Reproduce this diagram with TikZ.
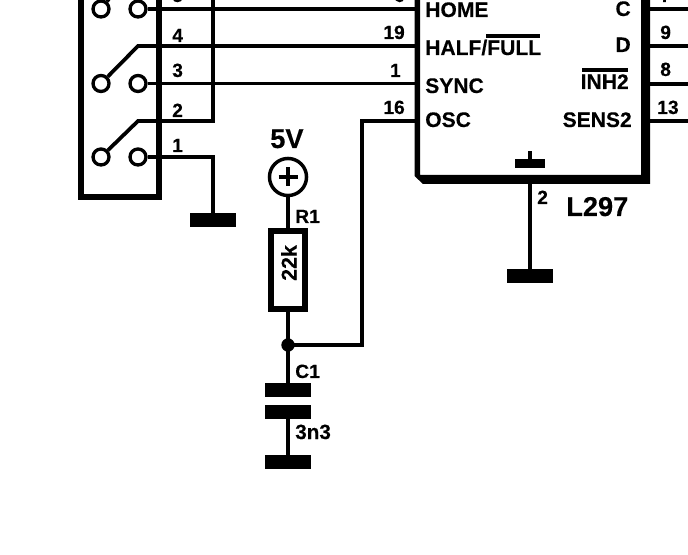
\documentclass[tikz,border=0pt]{standalone}
\usepackage{fontspec}
\setmainfont{Liberation Sans}[BoldFont={Liberation Sans Bold},BoldFeatures={FakeBold=0.25}]
\tikzset{
  wire/.style={draw=black,line width=2.8pt},
  term/.style={circle,draw=black,line width=2.5pt,minimum size=12pt,inner sep=0pt,fill=white},
  plate/.style={rectangle,fill=black,inner sep=0pt,minimum width=35pt,minimum height=10.5pt},
  lab/.style={inner sep=0pt,font=\bfseries\fontsize{15.8pt}{17pt}\selectfont,text=black},
  num/.style={inner sep=0pt,font=\bfseries\fontsize{14.4pt}{16pt}\selectfont,text=black},
  big/.style={inner sep=0pt,font=\bfseries\fontsize{20.4pt}{22pt}\selectfont,text=black},
}
\begin{document}
\begin{tikzpicture}[x=0.75pt,y=-0.75pt]
\useasboundingbox (0,0) rectangle (688,555);
% switch box
\draw[line width=4.5pt] (81,-5) -- (81,197) -- (158.7,197) -- (158.7,-5);
% coordinates
\coordinate (top1) at (112,-5);
\coordinate (w4) at (138,46);
\coordinate (w2) at (138,121);
\coordinate (w2c) at (213,121);
\coordinate (w2t) at (213,-5);
\coordinate (w1c) at (213,157);
\coordinate (p5) at (417,9);
\coordinate (p19) at (417,46);
\coordinate (p1) at (417,83.5);
\coordinate (p16) at (417,121);
\coordinate (oscc) at (362,121);
\coordinate (nodeh) at (362,345);
\coordinate (r7) at (645,9);
\coordinate (r9) at (645,46);
\coordinate (r8) at (645,84);
\coordinate (r13) at (645,121);
\coordinate (e7) at (693,9);
\coordinate (e9) at (693,46);
\coordinate (e8) at (693,84);
\coordinate (e13) at (693,121);
% terminals
\node[term] (a5) at (101,9) {};
\node[term] (b5) at (138,9) {};
\node[term] (a3) at (101,83.5) {};
\node[term] (b3) at (138,83.5) {};
\node[term] (a1) at (101,157) {};
\node[term] (b1) at (138,157) {};
% wires
\draw[wire] (a5) -- (top1);
\draw[wire] (b5) -- (p5);
\draw[wire] (a3) -- (w4) -- (p19);
\draw[wire] (b3) -- (p1);
\draw[wire] (a1) -- (w2) -- (w2c) -- (w2t);
\draw[wire] (b1) -- (w1c) -- (213,215);
\node[plate] (g1) at (213,220) {};
% IC
\fill[black] (414.5,-5) -- (414.5,176) -- (423,184) -- (650,184) -- (650,-5) -- (641,-5) -- (641,175) -- (420,175) -- (420,-5) -- cycle;
\draw[wire] (r7) -- (e7);
\draw[wire] (r9) -- (e9);
\draw[wire] (r8) -- (e8);
\draw[wire] (r13) -- (e13);
\node[rectangle,fill=black,inner sep=0pt,minimum width=22.5pt,minimum height=6.8pt] (tab) at (530,163.5) {};
\draw[wire] (tab.center) -- (530,151);
\node[plate] (g2) at (530,276) {};
\draw[wire] (530,180) -- (g2.center);
% supply
\node[circle,draw=black,line width=2.6pt,minimum size=27.8pt,inner sep=0pt] (vcc) at (288,177) {};
\draw[line width=2.8pt] (278.5,177) -- (297.5,177) (288,167.5) -- (288,186.5);
\node[rectangle,draw=black,line width=4.5pt,minimum width=25.8pt,minimum height=58.5pt,inner sep=0pt] (r1) at (288,269.7) {};
\draw[wire] (vcc) -- (r1);
\node[circle,fill=black,inner sep=0pt,minimum size=10pt] (dot) at (288,345) {};
\draw[wire] (r1) -- (dot.center);
\draw[wire] (dot.center) -- (nodeh) -- (oscc) -- (p16);
\node[plate] (c1) at (288,390) {};
\node[plate] (c2) at (288,412) {};
\node[plate] (g3) at (288,462) {};
\draw[wire] (dot.center) -- (c1.center);
\draw[wire] (c2.center) -- (g3.center);
% pin numbers left
\node[num,anchor=base west] (n4) at (172,42) {4};
\node[num,anchor=base west] (n3) at (172,77) {3};
\node[num,anchor=base west] (n2) at (172,117) {2};
\node[num,anchor=base west] (n1) at (172,152) {1};
\node[num,anchor=base west] (n5) at (172,2) {5};
\node[num,anchor=base east] (m6) at (405,2) {6};
\node[num,anchor=base east] (m19) at (405,39) {19};
\node[num,anchor=base east] (m1) at (401,77) {1};
\node[num,anchor=base east] (m16) at (405,114) {16};
\node[num,anchor=base west] (q7) at (660,2) {7};
\node[num,anchor=base west] (q9) at (660,39) {9};
\node[num,anchor=base west] (q8) at (660,76) {8};
\node[num,anchor=base west] (q13) at (657,114) {13};
\node[num,anchor=base west] (pin2) at (537,204) {2};
% IC labels
\node[lab,anchor=base west] (home) at (425,17) {HOME};
\node[lab,anchor=base west] (half) at (425,55) {HALF/FULL};
\node[lab,anchor=base west] (sync) at (425,93) {SYNC};
\node[lab,anchor=base west] (osc) at (425,127) {OSC};
\node[lab,anchor=base east] (lc) at (631,16) {C};
\node[lab,anchor=base east] (ld) at (631,52) {D};
\node[lab,anchor=base east] (inh) at (629,89) {INH2};
\node[lab,anchor=base east] (sens) at (632,127) {SENS2};
\draw[line width=2.8pt] (486,36) -- (540,36);
\draw[line width=2.8pt] (582,70) -- (628,70);
\node[big,anchor=base west] (l297) at (566,216) {L297};
% supply labels
\node[big,anchor=base west] (v5) at (270,148) {5V};
\node[num,anchor=base west] (rn) at (295,223) {R1};
\node[num,anchor=base,rotate=90,font=\bfseries\fontsize{16pt}{18pt}\selectfont] (rv) at (296.5,263) {22k};
\node[num,anchor=base west] (cn) at (295,378) {C1};
\node[num,anchor=base west,font=\bfseries\fontsize{15.5pt}{17pt}\selectfont] (cv) at (295,439) {3n3};
\end{tikzpicture}
\end{document}
